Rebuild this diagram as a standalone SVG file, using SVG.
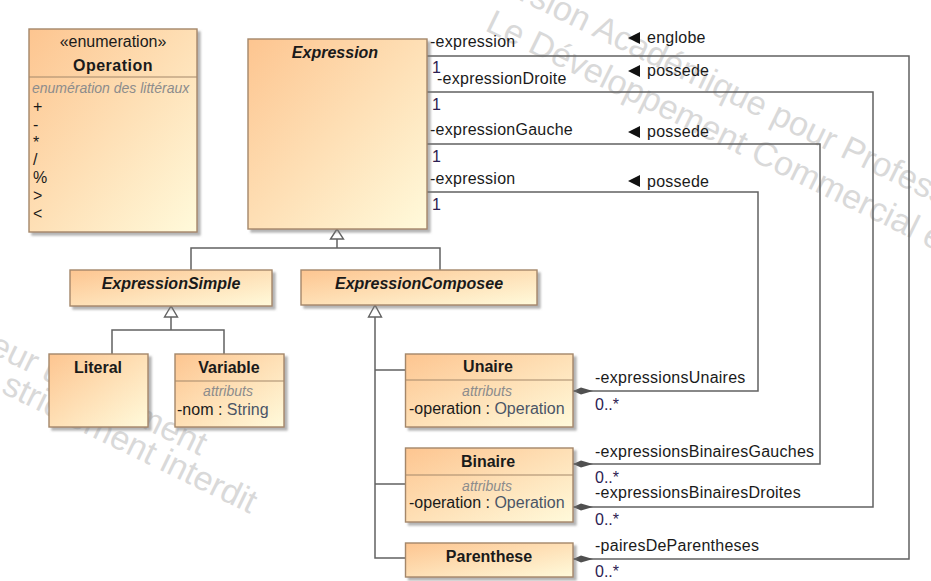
<svg xmlns="http://www.w3.org/2000/svg" width="931" height="581" viewBox="0 0 931 581">
  <style>
    .t { font-family: "Liberation Sans", Arial, sans-serif; font-size: 16px; fill: #1a1a1a; }
    .role { letter-spacing: 0.25px; }
    .title { font-weight: bold; text-anchor: middle; }
    .abs { font-style: italic; }
    .cmp { font-size: 14px; font-style: italic; fill: #8c8c8c; }
    .mid { text-anchor: middle; }
    .mult { fill: #2c2152; }
    .type { fill: #4b5566; }
    .wm { font-family: "Liberation Sans", Arial, sans-serif; font-size: 34px; fill: #d9d9d9; }
    .wm-end { text-anchor: end; }
    .box { fill: url(#boxFill); stroke: #a4876a; stroke-width: 1.4; filter: url(#shadow); }
    .sep { stroke: #a4876a; stroke-width: 1.2; }
    .conn { fill: none; stroke: #626262; stroke-width: 1.5; }
    .gen { fill: #ffffff; stroke: #626262; stroke-width: 1.4; }
    .dir { fill: #111111; }
  </style>
  <defs>
    <linearGradient id="boxFill" x1="0" y1="0" x2="1" y2="1">
      <stop offset="0" stop-color="#fdc590"/>
      <stop offset="1" stop-color="#fffadb"/>
    </linearGradient>
    <filter id="shadow" x="-10%" y="-10%" width="130%" height="130%">
      <feDropShadow dx="3" dy="3" stdDeviation="1.3" flood-color="#777777" flood-opacity="0.55"/>
    </filter>
    <marker id="diamond" markerUnits="userSpaceOnUse" markerWidth="20" markerHeight="8" viewBox="0 0 20 8" refX="0" refY="4" orient="auto">
      <path d="M0,4 L8,0.5 L20,4 L8,7.5 z" fill="#505050"/>
    </marker>
  </defs>

  <!-- background watermark -->
  <g id="watermark">
    <text class="wm" transform="translate(482,-18) rotate(26)">Version Académique pour Professeur uniquement</text>
    <text class="wm" transform="translate(484,30) rotate(26)">Le Développement Commercial est strictement interdit</text>
    <text class="wm wm-end" transform="translate(200,456) rotate(26)">Version Académique pour Professeur uniquement</text>
    <text class="wm wm-end" transform="translate(250,514) rotate(26)">Le Développement Commercial est strictement interdit</text>
  </g>

  <!-- connectors -->
  <g id="connectors">
    <!-- generalizations -->
    <path class="conn" d="M191,270 V248 H440 V270 M337,248 V239"/>
    <polygon class="gen" points="337,229 330.5,239 343.5,239"/>
    <path class="conn" d="M112,354 V330 H224 V354 M171,330 V317"/>
    <polygon class="gen" points="171,306 164.5,317 177.5,317"/>
    <path class="conn" d="M375,317 V558 H405 M375,370 H405 M375,484 H405"/>
    <polygon class="gen" points="375,305 368.5,317 381.5,317"/>

    <!-- compositions -->
    <path class="conn" marker-start="url(#diamond)" d="M573,391 H758 V192 H427"/>
    <path class="conn" marker-start="url(#diamond)" d="M573,464 H820 V144 H427"/>
    <path class="conn" marker-start="url(#diamond)" d="M573,507 H873 V92 H427"/>
    <path class="conn" marker-start="url(#diamond)" d="M573,559 H909 V56 H427"/>

    <!-- role names and multiplicities at Expression -->
    <text class="t role" x="430" y="47">-expression</text>
    <text class="t mult" x="432" y="73">1</text>
    <text class="t role" x="437" y="84">-expressionDroite</text>
    <text class="t mult" x="432" y="110">1</text>
    <text class="t role" x="430" y="135">-expressionGauche</text>
    <text class="t mult" x="432" y="162">1</text>
    <text class="t role" x="430" y="184">-expression</text>
    <text class="t mult" x="432" y="210">1</text>

    <!-- association names -->
    <polygon class="dir" points="628,38 640,32 640,44"/>
    <text class="t role" x="647" y="43">englobe</text>
    <polygon class="dir" points="628,71 640,65 640,77"/>
    <text class="t role" x="647" y="76">possede</text>
    <polygon class="dir" points="628,132 640,126 640,138"/>
    <text class="t role" x="647" y="137">possede</text>
    <polygon class="dir" points="628,181 640,175 640,187"/>
    <text class="t role" x="647" y="187">possede</text>

    <!-- role names and multiplicities at the parts -->
    <text class="t role" x="595" y="383">-expressionsUnaires</text>
    <text class="t mult" x="595" y="410">0..*</text>
    <text class="t role" x="595" y="457">-expressionsBinairesGauches</text>
    <text class="t mult" x="595" y="483">0..*</text>
    <text class="t role" x="595" y="498">-expressionsBinairesDroites</text>
    <text class="t mult" x="595" y="525">0..*</text>
    <text class="t role" x="595" y="551">-pairesDeParentheses</text>
    <text class="t mult" x="595" y="577">0..*</text>
  </g>

  <!-- classes -->
  <g id="Operation">
    <rect class="box" x="29" y="29" width="168" height="203"/>
    <line class="sep" x1="29" y1="77" x2="197" y2="77"/>
    <text class="t mid" x="113" y="47">«enumeration»</text>
    <text class="t title" x="113" y="71" letter-spacing="0.5">Operation</text>
    <text class="t cmp" x="32" y="93">enumération des littéraux</text>
    <text class="t" x="33" y="112">+</text>
    <text class="t" x="33" y="130">-</text>
    <text class="t" x="33" y="148">*</text>
    <text class="t" x="33" y="165">/</text>
    <text class="t" x="33" y="183">%</text>
    <text class="t" x="33" y="201">&gt;</text>
    <text class="t" x="33" y="219">&lt;</text>
  </g>

  <g id="Expression">
    <rect class="box" x="248" y="39" width="179" height="190"/>
    <text class="t title abs" x="335" y="58">Expression</text>
  </g>

  <g id="ExpressionSimple">
    <rect class="box" x="70" y="270" width="202" height="36"/>
    <text class="t title abs" x="171" y="289">ExpressionSimple</text>
  </g>

  <g id="ExpressionComposee">
    <rect class="box" x="301" y="270" width="236" height="35"/>
    <text class="t title abs" x="419" y="289">ExpressionComposee</text>
  </g>

  <g id="Literal">
    <rect class="box" x="49" y="354" width="99" height="73"/>
    <text class="t title" x="98" y="373">Literal</text>
  </g>

  <g id="Variable">
    <rect class="box" x="175" y="354" width="109" height="73"/>
    <line class="sep" x1="175" y1="381" x2="284" y2="381"/>
    <text class="t title" x="229" y="373">Variable</text>
    <text class="t cmp mid" x="228" y="396">attributs</text>
    <text class="t" x="177" y="415">-nom : <tspan class="type">String</tspan></text>
  </g>

  <g id="Unaire">
    <rect class="box" x="405.5" y="354" width="167.5" height="73"/>
    <line class="sep" x1="405.5" y1="380" x2="573" y2="380"/>
    <text class="t title" x="488" y="372">Unaire</text>
    <text class="t cmp mid" x="487" y="396">attributs</text>
    <text class="t" x="409" y="414">-operation : <tspan class="type">Operation</tspan></text>
  </g>

  <g id="Binaire">
    <rect class="box" x="405.5" y="448" width="167.5" height="74"/>
    <line class="sep" x1="405.5" y1="475" x2="573" y2="475"/>
    <text class="t title" x="488" y="467">Binaire</text>
    <text class="t cmp mid" x="487" y="491">attributs</text>
    <text class="t" x="409" y="508">-operation : <tspan class="type">Operation</tspan></text>
  </g>

  <g id="Parenthese">
    <rect class="box" x="405.5" y="543" width="167.5" height="34"/>
    <text class="t title" x="489" y="562">Parenthese</text>
  </g>
</svg>
